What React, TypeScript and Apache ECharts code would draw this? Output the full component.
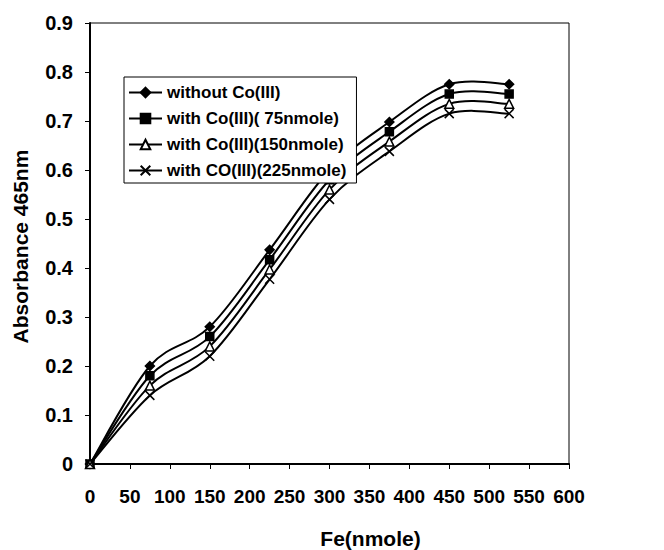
import React, { useEffect, useRef } from "react";
import * as echarts from "echarts";

const feValues = [0, 75, 150, 225, 300, 375, 450, 525];
const withoutCo = [0, 0.2, 0.28, 0.437, 0.6, 0.698, 0.775, 0.775];
const withCo75 = [0, 0.18, 0.26, 0.417, 0.58, 0.678, 0.755, 0.755];
const withCo150 = [0, 0.16, 0.24, 0.397, 0.56, 0.658, 0.735, 0.735];
const withCo225 = [0, 0.14, 0.22, 0.377, 0.54, 0.638, 0.715, 0.715];
const seriesNames = [
  "without Co(III)",
  "with Co(III)( 75nmole)",
  "with Co(III)(150nmole)",
  "with CO(III)(225nmole)",
];
const allSeries = [withoutCo, withCo75, withCo150, withCo225];

export default function App() {
  const ref = useRef<HTMLDivElement>(null);
  useEffect(() => {
    if (!ref.current) return;
    const chart = echarts.init(ref.current, undefined, { renderer: "svg" });
    const font = "'Liberation Sans', Arial, sans-serif";

    // Excel-like smoothed curve through data points, drawn in pixel space
    const curve = (values: number[]) => ({
      type: "custom",
      silent: true,
      z: 1,
      data: [[feValues[0], values[0]]],
      renderItem: (params: any, api: any) => {
        const p = feValues.map((x, i) => api.coord([x, values[i]]));
        const n = p.length;
        const g = (i: number) => p[Math.max(0, Math.min(n - 1, i))];
        let d = `M${p[0][0]},${p[0][1]}`;
        for (let i = 0; i < n - 1; i++) {
          const a = g(i - 1), b = g(i), c = g(i + 1), e = g(i + 2);
          const c1x = b[0] + (c[0] - a[0]) / 6;
          const c1y = b[1] + (c[1] - a[1]) / 6;
          const c2x = c[0] - (e[0] - b[0]) / 6;
          const c2y = c[1] - (e[1] - b[1]) / 6;
          d += ` C${c1x},${c1y} ${c2x},${c2y} ${c[0]},${c[1]}`;
        }
        return {
          type: "path",
          shape: { pathData: d },
          style: { fill: "none", stroke: "#000", lineWidth: 2 },
        };
      },
    });

    const mk = (name: string, data: number[], symbol: string, size: number, fill: string) => ({
      name,
      type: "line",
      z: 3,
      data: feValues.map((x, i) => [x, data[i]]),
      symbol,
      symbolSize: size,
      lineStyle: { color: "#000", width: 0 },
      itemStyle: { color: fill, borderColor: "#000", borderWidth: 1.5 },
    });

    chart.setOption({
      animation: false,
      backgroundColor: "#fff",
      grid: {
        left: 90, right: 95, top: 23, bottom: 86,
        show: true, borderColor: "#000", borderWidth: 1,
        containLabel: false, outerBoundsMode: "none",
      },
      xAxis: {
        type: "value",
        min: 0,
        max: 600,
        interval: 50,
        name: "Fe(nmole)",
        nameLocation: "middle",
        nameGap: 64,
        nameMoveOverlap: false,
        nameTextStyle: {
          fontFamily: font, fontSize: 21, fontWeight: "bold", color: "#000",
          padding: [0, 0, 0, 82],
        },
        axisLine: { show: true, onZero: false, lineStyle: { color: "#000", width: 2 } },
        axisTick: { show: true, length: 5, lineStyle: { color: "#000" } },
        axisLabel: { fontFamily: font, fontSize: 19, fontWeight: "bold", color: "#000", margin: 23 },
        splitLine: { show: false },
      },
      yAxis: {
        type: "value",
        min: 0,
        max: 0.9,
        interval: 0.1,
        name: "Absorbance 465nm",
        nameLocation: "middle",
        nameGap: 59,
        nameMoveOverlap: false,
        nameTextStyle: {
          fontFamily: font, fontSize: 21, fontWeight: "bold", color: "#000",
          padding: [0, 6, 0, 0],
        },
        axisLine: { show: true, lineStyle: { color: "#000", width: 2 } },
        axisTick: { show: true, length: 5, lineStyle: { color: "#000" } },
        axisLabel: {
          fontFamily: font,
          fontSize: 20,
          fontWeight: "bold",
          color: "#000",
          margin: 17,
          formatter: (v: number) => (v === 0 ? "0" : v.toFixed(1)),
        },
        splitLine: { show: false },
      },
      legend: {
        orient: "vertical",
        left: 124,
        top: 77,
        backgroundColor: "#fff",
        borderColor: "#000",
        borderWidth: 1,
        borderRadius: 0,
        padding: [7, 10, 4, 4],
        itemWidth: 33,
        itemHeight: 12,
        itemGap: 9,
        lineStyle: { color: "#000", width: 2, opacity: 1 },
        textStyle: { fontFamily: font, fontSize: 17, fontWeight: "bold", color: "#000", lineHeight: 17 },
        data: seriesNames,
      },
      series: [
        ...allSeries.map((v) => curve(v)),
        mk(seriesNames[0], withoutCo, "diamond", 9, "#000"),
        mk(seriesNames[1], withCo75, "rect", 8, "#000"),
        mk(seriesNames[2], withCo150, "triangle", 9, "#fff"),
        mk(seriesNames[3], withCo225, "path://M0,0L10,10M10,0L0,10", 9, "none"),
      ],
    });
    return () => chart.dispose();
  }, []);
  return (
    <div
      ref={ref}
      style={{ position: "absolute", left: 0, top: 0, width: 664, height: 550 }}
    />
  );
}
